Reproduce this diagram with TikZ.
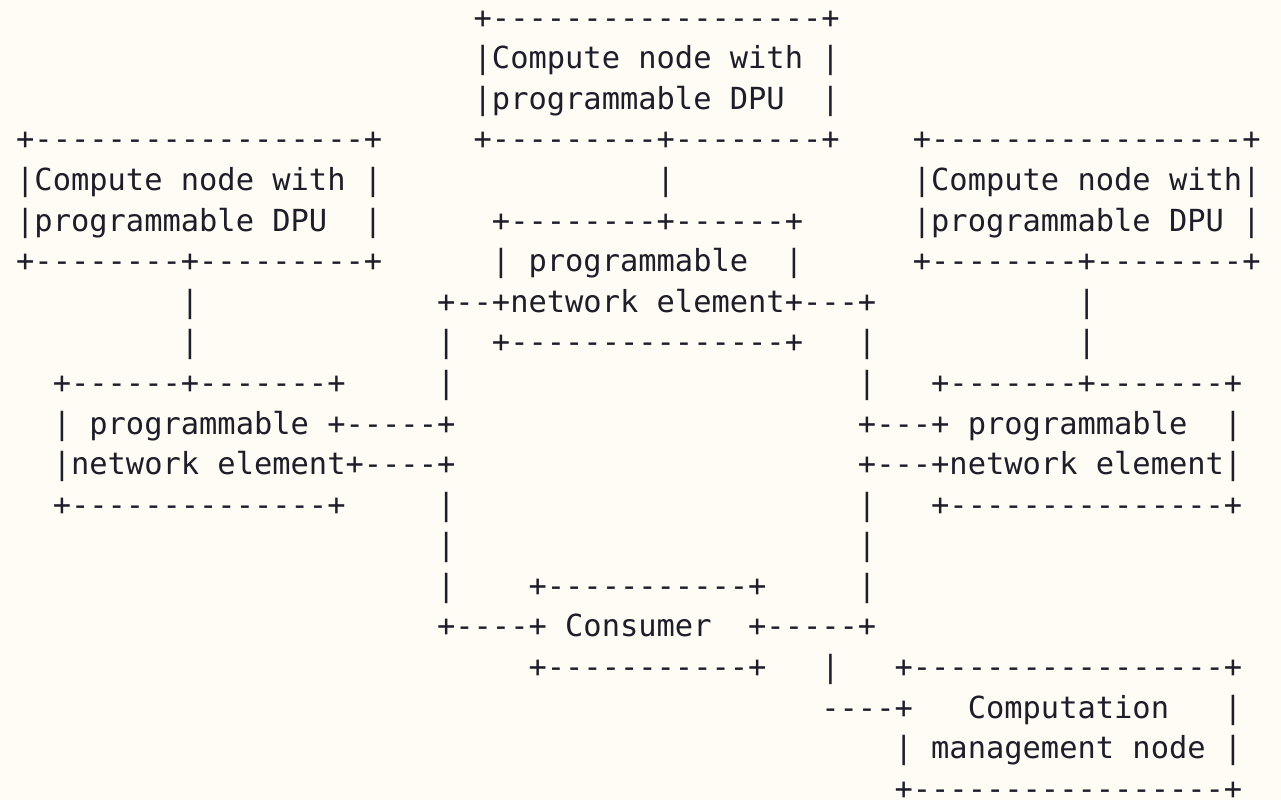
\documentclass[tikz,border=0pt]{standalone}
\usepackage{fontspec}
\newfontfamily\asciifont{DejaVu Sans Mono}
\definecolor{paper}{HTML}{FFFCF5}
\definecolor{ink}{HTML}{1E1E2A}
\ExplSyntaxOn
\cs_new:Npn \dashrun #1 { \prg_replicate:nn {#1} { - } }
\ExplSyntaxOff
% one run of monospaced characters, placed by column (#2) and line (#3)
\newcommand\glyphs[4]{\node[ascii] (#1) at ({16.15+(#2-1)*18.3},{28.2+(#3-1)*40.58}) {#4};}
\tikzset{ascii/.style={anchor=base west, inner sep=0pt, outer sep=0pt, text=ink,
  font=\asciifont\fontsize{30.4}{36}\selectfont}}
\begin{document}
\begin{tikzpicture}[x=1pt,y=-1pt]
\useasboundingbox (0,0) rectangle (1281,800);
\fill[paper] (0,0) rectangle (1281,800);
% top compute node
\glyphs{r01a}{26}{1}{+\dashrun{18}+}
\glyphs{r02a}{26}{2}{|Compute node with |}
\glyphs{r03a}{26}{3}{|programmable DPU}
\glyphs{r03b}{45}{3}{|}
\glyphs{r04a}{1}{4}{+\dashrun{18}+}
\glyphs{r04b}{26}{4}{+\dashrun{9}+\dashrun{8}+}
\glyphs{r04c}{50}{4}{+\dashrun{17}+}
% side compute nodes and central network element
\glyphs{r05a}{1}{5}{|Compute node with |}
\glyphs{r05b}{36}{5}{|}
\glyphs{r05c}{50}{5}{|Compute node with|}
\glyphs{r06a}{1}{6}{|programmable DPU}
\glyphs{r06b}{20}{6}{|}
\glyphs{r06c}{27}{6}{+\dashrun{8}+\dashrun{6}+}
\glyphs{r06d}{50}{6}{|programmable DPU |}
\glyphs{r07a}{1}{7}{+\dashrun{8}+\dashrun{9}+}
\glyphs{r07b}{27}{7}{| programmable}
\glyphs{r07c}{43}{7}{|}
\glyphs{r07d}{50}{7}{+\dashrun{8}+\dashrun{8}+}
\glyphs{r08a}{10}{8}{|}
\glyphs{r08b}{24}{8}{+\dashrun{2}+network element+\dashrun{3}+}
\glyphs{r08c}{59}{8}{|}
\glyphs{r09a}{10}{9}{|}
\glyphs{r09b}{24}{9}{|}
\glyphs{r09c}{27}{9}{+\dashrun{15}+}
\glyphs{r09d}{47}{9}{|}
\glyphs{r09e}{59}{9}{|}
% left and right network elements
\glyphs{r10a}{3}{10}{+\dashrun{6}+\dashrun{7}+}
\glyphs{r10b}{24}{10}{|}
\glyphs{r10c}{47}{10}{|}
\glyphs{r10d}{51}{10}{+\dashrun{7}+\dashrun{7}+}
\glyphs{r11a}{3}{11}{| programmable +\dashrun{5}+}
\glyphs{r11b}{47}{11}{+\dashrun{3}+ programmable}
\glyphs{r11c}{67}{11}{|}
\glyphs{r12a}{3}{12}{|network element+\dashrun{4}+}
\glyphs{r12b}{47}{12}{+\dashrun{3}+network element|}
\glyphs{r13a}{3}{13}{+\dashrun{14}+}
\glyphs{r13b}{24}{13}{|}
\glyphs{r13c}{47}{13}{|}
\glyphs{r13d}{51}{13}{+\dashrun{15}+}
\glyphs{r14a}{24}{14}{|}
\glyphs{r14b}{47}{14}{|}
% consumer
\glyphs{r15a}{24}{15}{|}
\glyphs{r15b}{29}{15}{+\dashrun{11}+}
\glyphs{r15c}{47}{15}{|}
\glyphs{r16a}{24}{16}{+\dashrun{4}+ Consumer}
\glyphs{r16b}{41}{16}{+\dashrun{5}+}
\glyphs{r17a}{29}{17}{+\dashrun{11}+}
\glyphs{r17b}{45}{17}{|}
% computation management node
\glyphs{r17c}{49}{17}{+\dashrun{17}+}
\glyphs{r18a}{45}{18}{\dashrun{4}+}
\glyphs{r18b}{53}{18}{Computation}
\glyphs{r18c}{67}{18}{|}
\glyphs{r19a}{49}{19}{| management node |}
\glyphs{r20a}{49}{20}{+\dashrun{17}+}
\end{tikzpicture}
\end{document}
